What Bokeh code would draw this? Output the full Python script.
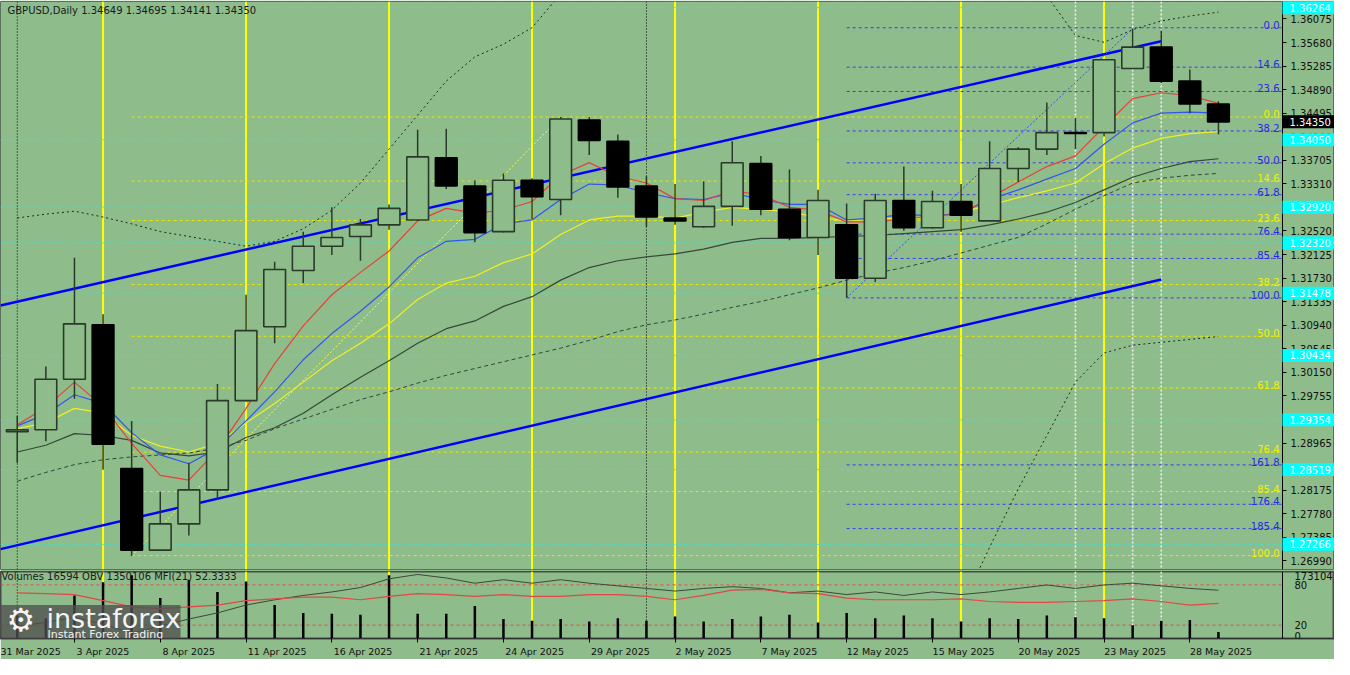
import numpy as np
from bokeh.plotting import figure
from bokeh.models import (Range1d, FixedTicker, PrintfTickFormatter, CustomJSTickFormatter,
                          Label, Span, BoxAnnotation, LinearAxis)
from bokeh.layouts import column
from bokeh.embed import file_html
from bokeh.resources import INLINE
from bokeh.core.properties import value

NAN = float("nan")

# ---------------- data ----------------
dates = ["1 Apr", "2 Apr", "3 Apr", "4 Apr", "7 Apr", "8 Apr", "9 Apr", "10 Apr", "11 Apr", "14 Apr",
         "15 Apr", "16 Apr", "17 Apr", "18 Apr", "21 Apr", "22 Apr", "23 Apr", "24 Apr", "25 Apr", "28 Apr",
         "29 Apr", "30 Apr", "1 May", "2 May", "5 May", "6 May", "7 May", "8 May", "9 May", "12 May",
         "13 May", "14 May", "15 May", "16 May", "19 May", "20 May", "21 May", "22 May", "23 May", "26 May",
         "27 May", "28 May", "29 May"]

opens = [1.29155, 1.29188, 1.30035, 1.30946, 1.28537, 1.27169, 1.27609, 1.28179, 1.29676, 1.30914,
         1.31858, 1.32265, 1.32428, 1.32623, 1.32705, 1.33747, 1.33275, 1.32509, 1.33372, 1.33047,
         1.34382, 1.34024, 1.33275, 1.32737, 1.32591, 1.32933, 1.33649, 1.32884, 1.32412, 1.32623,
         1.31728, 1.33030, 1.32574, 1.33014, 1.32689, 1.33568, 1.33893, 1.34170, 1.34170, 1.35245,
         1.35603, 1.35033, 1.34649]
highs = [1.29416, 1.30246, 1.32070, 1.31126, 1.29335, 1.28146, 1.28634, 1.29953, 1.31451, 1.32005,
         1.32509, 1.32916, 1.32721, 1.32965, 1.34219, 1.34235, 1.33372, 1.33486, 1.33405, 1.34431,
         1.34431, 1.34138, 1.33437, 1.33307, 1.33356, 1.34024, 1.33779, 1.33551, 1.33210, 1.32982,
         1.33144, 1.33600, 1.33193, 1.33307, 1.34024, 1.33926, 1.34675, 1.34414, 1.35400, 1.35912,
         1.35880, 1.35228, 1.34695]
lows = [1.28634, 1.28993, 1.29709, 1.28521, 1.27071, 1.27153, 1.27413, 1.28016, 1.29660, 1.30637,
        1.31647, 1.32119, 1.32021, 1.32542, 1.32688, 1.33226, 1.32330, 1.32493, 1.32721, 1.32786,
        1.33796, 1.33079, 1.32591, 1.32623, 1.32575, 1.32607, 1.32786, 1.32363, 1.32119, 1.31402,
        1.31663, 1.32526, 1.32558, 1.32509, 1.32689, 1.33340, 1.33796, 1.33893, 1.34105, 1.35245,
        1.35000, 1.34496, 1.34141]
closes = [1.29188, 1.30035, 1.30963, 1.28944, 1.27169, 1.27609, 1.28179, 1.29676, 1.30849, 1.31874,
          1.32265, 1.32412, 1.32623, 1.32900, 1.33763, 1.33275, 1.32493, 1.33372, 1.33096, 1.34398,
          1.34040, 1.33258, 1.32754, 1.32689, 1.32933, 1.33665, 1.32884, 1.32412, 1.33030, 1.31728,
          1.33030, 1.32574, 1.33014, 1.32786, 1.33568, 1.33893, 1.34170, 1.34154, 1.35391, 1.35603,
          1.35033, 1.34649, 1.34350]

ma_red = [1.29270, 1.29563, 1.29986, 1.29579, 1.28960, 1.28423, 1.28342, 1.28846, 1.29546, 1.30295,
          1.30930, 1.31451, 1.31826, 1.32184, 1.32689, 1.32900, 1.32819, 1.32868, 1.33014, 1.33454,
          1.33666, 1.33438, 1.33324, 1.33063, 1.33031, 1.33193, 1.33128, 1.32917, 1.32868, 1.32672,
          1.32672, 1.32721, 1.32770, 1.32803, 1.33079, 1.33340, 1.33600, 1.33780, 1.34268, 1.34740,
          1.34838, 1.34789, 1.34659]
ma_blue = [1.29253, 1.29449, 1.29774, 1.29628, 1.29139, 1.28765, 1.28618, 1.28879, 1.29335, 1.29823,
           1.30360, 1.30800, 1.31175, 1.31582, 1.32070, 1.32347, 1.32379, 1.32640, 1.32705, 1.33047,
           1.33307, 1.33291, 1.33161, 1.33063, 1.33047, 1.33161, 1.33047, 1.32965, 1.32965, 1.32705,
           1.32737, 1.32803, 1.32770, 1.32819, 1.33047, 1.33210, 1.33389, 1.33568, 1.33975, 1.34333,
           1.34496, 1.34512, 1.34496]
ma_yellow = [1.29205, 1.29302, 1.29546, 1.29465, 1.29091, 1.28912, 1.28814, 1.28960, 1.29302, 1.29628,
             1.29986, 1.30344, 1.30637, 1.30963, 1.31370, 1.31647, 1.31761, 1.31989, 1.32135, 1.32461,
             1.32705, 1.32770, 1.32770, 1.32737, 1.32835, 1.32917, 1.32884, 1.32835, 1.32754, 1.32689,
             1.32721, 1.32737, 1.32737, 1.32835, 1.32949, 1.33079, 1.33193, 1.33324, 1.33649, 1.33910,
             1.34073, 1.34154, 1.34187]
ma_dark = [1.28814, 1.28928, 1.29123, 1.29091, 1.29009, 1.28798, 1.28749, 1.28814, 1.29058, 1.29221,
           1.29465, 1.29774, 1.30067, 1.30344, 1.30637, 1.30882, 1.31012, 1.31256, 1.31419, 1.31696,
           1.31907, 1.32021, 1.32086, 1.32135, 1.32217, 1.32330, 1.32396, 1.32396, 1.32412, 1.32428,
           1.32444, 1.32477, 1.32510, 1.32542, 1.32624, 1.32721, 1.32835, 1.32998, 1.33210, 1.33421,
           1.33568, 1.33682, 1.33731]
ma_dashed = [1.28325, 1.28472, 1.28602, 1.28684, 1.28732, 1.28765, 1.28798, 1.28879, 1.29009, 1.29205,
             1.29367, 1.29530, 1.29693, 1.29823, 1.29970, 1.30100, 1.30214, 1.30328, 1.30442, 1.30556,
             1.30686, 1.30833, 1.30947, 1.31028, 1.31126, 1.31240, 1.31337, 1.31451, 1.31565, 1.31696,
             1.31810, 1.31907, 1.32021, 1.32151, 1.32282, 1.32412, 1.32640, 1.32884, 1.33112, 1.33324,
             1.33405, 1.33454, 1.33486]
band_upper = [1.32738, 1.32803, 1.32852, 1.32754, 1.32640, 1.32510, 1.32428, 1.32347, 1.32265, 1.32347,
              1.32558, 1.32868, 1.33324, 1.33893, 1.34463, 1.35033, 1.35440, 1.35652, 1.35929, 1.36498,
              1.37100] + [NAN] * 14 + [1.36900, 1.36466, 1.35798, 1.35684, 1.35896, 1.36042, 1.36124, 1.36189]
band_lower = [NAN] * 32 + [1.25500, 1.26200, 1.27218, 1.28195, 1.29091, 1.29986, 1.30474, 1.30605,
                           1.30654, 1.30702, 1.30751]

volumes = [59400, 52600, 111300, 145100, 163200, 104500, 151900, 120300, 147400, 86400,
           66100, 63900, 61600, 163200, 63900, 63900, 84200, 50300, 45800, 50300,
           43600, 52600, 45800, 57100, 43600, 50300, 57100, 61600, 41300, 66100,
           52600, 59400, 52600, 43600, 52600, 50300, 59400, 54800, 52600, 34500,
           45800, 48100, 16594]
obv = [1022106, 1054106, 1102106, 1038106, 958106, 1022106, 1086106, 1142106, 1214106, 1262106,
       1302106, 1334106, 1374106, 1454106, 1494106, 1462106, 1414106, 1446106, 1414106, 1446106,
       1414106, 1390106, 1366106, 1342106, 1366106, 1382106, 1366106, 1326106, 1342106, 1310106,
       1334106, 1302106, 1334106, 1310106, 1334106, 1366106, 1398106, 1366106, 1398106, 1414106,
       1390106, 1366106, 1350106]
mfi = [68.2, 66.9, 65.6, 56.5, 47.3, 44.7, 47.3, 49.8, 56.5, 59.1, 61.7, 61.7, 57.8, 63.0, 66.9,
       65.6, 63.0, 65.6, 63.0, 63.0, 65.6, 65.6, 63.0, 57.8, 64.3, 72.1, 73.4, 68.2, 66.9, 60.4,
       57.8, 57.8, 57.8, 59.1, 55.2, 53.8, 53.8, 55.2, 56.5, 59.1, 55.2, 49.8, 52.3333]
mfi_levels = [80, 20]

# Fibonacci retracements (anchor bar index, high, low)
fib_y_start, fib_y_high, fib_y_low = 4, 1.34431, 1.27077
fib_y_levels = [0.0, 14.6, 23.6, 38.2, 50.0, 61.8, 76.4, 85.4, 100.0]
fib_b_start, fib_b_high, fib_b_low = 29, 1.35928, 1.31398
fib_b_levels = [0.0, 14.6, 23.6, 38.2, 50.0, 61.8, 76.4, 85.4, 100.0, 161.8, 176.4, 185.4]

# horizontal support / resistance levels (cyan)
cyan_levels = [1.36264, 1.34050, 1.32920, 1.32320, 1.31478, 1.30434, 1.29354, 1.28519, 1.27266]

# channel trend lines (bar index, price)
tl_x = [-0.586, 40]
tl_upper = [1.31272, 1.35700]
tl_lower = [1.27186, 1.31708]
tl_yellow_x, tl_yellow_y = [4, 19], [1.27071, 1.34431]
tl_blue_x, tl_blue_y = [29, 39], [1.31402, 1.35912]

weekly_lines = [3, 8, 13, 18, 23, 28, 33, 38]
month_seps = [0, 22]
white_lines = [37, 39, 40]

price_ticks = [1.26990 + 0.00395 * k for k in range(24)]
tick_idx = [-1, 2, 5, 8, 11, 14, 17, 20, 23, 26, 29, 32, 35, 38, 41]
tick_labels = ["31 Mar 2025", "3 Apr 2025", "8 Apr 2025", "11 Apr 2025", "16 Apr 2025", "21 Apr 2025",
               "24 Apr 2025", "29 Apr 2025", "2 May 2025", "7 May 2025", "12 May 2025", "15 May 2025",
               "20 May 2025", "23 May 2025", "28 May 2025"]

# ---------------- styling ----------------
BG = "#8FBC8B"
FONT = "DejaVu Sans"
X0, X1 = -0.586, 44.24          # chart area (the price axis line sits at X1)
Y0, Y1 = 1.26844, 1.36368
W = 1334
RB = 52                          # width of the price-axis strip
BAR_PX = (W - RB) / (X1 - X0)
XF = X0 + W / BAR_PX             # frame extends under the axis strip

x = np.arange(len(dates))
o = np.array(opens); c = np.array(closes)
h = np.array(highs); l = np.array(lows)
up = c >= o

p1 = figure(width=W, height=571, x_range=Range1d(X0, XF), y_range=Range1d(Y0, Y1),
            toolbar_location=None, output_backend="svg", y_axis_location=None,
            x_axis_location=None, min_border_left=0, min_border_right=0,
            min_border_top=1, min_border_bottom=2,
            background_fill_color=BG, border_fill_color=BG,
            outline_line_color="#5e6e5e", outline_line_width=1)
p1.grid.visible = False


def add_vlines(fig):
    for i in weekly_lines:
        fig.add_layout(Span(location=i, dimension="height", line_color="#ffff00",
                            line_width=2, level="underlay"))
    for i in month_seps:
        fig.add_layout(Span(location=i, dimension="height", line_color="#000000",
                            line_width=1, line_dash="1 2", level="underlay"))
    for i in white_lines:
        fig.add_layout(Span(location=i, dimension="height", line_color="#f4f4f4",
                            line_width=1.5, line_dash="2 2", level="underlay"))


add_vlines(p1)

# cyan levels
n_c = len(cyan_levels)
p1.segment(x0=[X0] * n_c, y0=cyan_levels, x1=[X1] * n_c, y1=cyan_levels,
           line_color="#40E0D0", line_width=1, line_dash="3 3")

# fib levels
fy_prices = [fib_y_high - lv / 100.0 * (fib_y_high - fib_y_low) for lv in fib_y_levels]
fb_prices = [fib_b_high - lv / 100.0 * (fib_b_high - fib_b_low) for lv in fib_b_levels]
p1.segment(x0=[fib_y_start] * len(fy_prices), y0=fy_prices, x1=[X1] * len(fy_prices), y1=fy_prices,
           line_color="#e8e800", line_width=1, line_dash="3 3")
p1.segment(x0=[fib_b_start] * len(fb_prices), y0=fb_prices, x1=[X1] * len(fb_prices), y1=fb_prices,
           line_color="#3a3aff", line_width=1, line_dash="3 3")
p1.text(x=[X1] * len(fy_prices), y=fy_prices, text=[f"{lv:.1f}" for lv in fib_y_levels],
        text_align="right", text_baseline="bottom", x_offset=-3, y_offset=1,
        text_font=value(FONT), text_font_size="10px", text_color="#f0f000")
p1.text(x=[X1] * len(fb_prices), y=fb_prices, text=[f"{lv:.1f}" for lv in fib_b_levels],
        text_align="right", text_baseline="bottom", x_offset=-3, y_offset=1,
        text_font=value(FONT), text_font_size="10px", text_color="#2828e6")

# trend lines
p1.line(tl_x, tl_upper, line_color="#0000ff", line_width=2.5)
p1.line(tl_x, tl_lower, line_color="#0000ff", line_width=2.5)
p1.line(tl_yellow_x, tl_yellow_y, line_color="#ffff40", line_width=1, line_dash="2 2")
p1.line(tl_blue_x, tl_blue_y, line_color="#2f4fff", line_width=1, line_dash="2 2")

# indicator lines
p1.line(x, np.array(band_upper), line_color="#1e2a1e", line_width=1, line_dash="2 3")
p1.line(x, np.array(band_lower), line_color="#1e2a1e", line_width=1, line_dash="2 3")
p1.line(x, ma_dashed, line_color="#2f4a3a", line_width=1, line_dash="4 3")
p1.line(x, ma_dark, line_color="#34483a", line_width=1.2)
p1.line(x, ma_yellow, line_color="#f0f020", line_width=1.2)
p1.line(x, ma_blue, line_color="#3355ee", line_width=1.2)
p1.line(x, ma_red, line_color="#e8403a", line_width=1.2)

# candles
p1.segment(x0=x, y0=h, x1=x, y1=l, line_color="#2a3a2a", line_width=1.5)
p1.vbar(x=x[up], top=c[up], bottom=o[up], width=0.76, fill_color=BG,
        line_color="#2a3a2a", line_width=1.6)
p1.vbar(x=x[~up], top=o[~up], bottom=c[~up], width=0.76, fill_color="#000000",
        line_color="#000000", line_width=1.6)

# price axis drawn at the right edge of the chart area
ax = LinearAxis(fixed_location=X1, ticker=FixedTicker(ticks=price_ticks),
                formatter=PrintfTickFormatter(format="%.5f"),
                axis_line_color="#000000", major_tick_out=4, major_tick_in=0,
                minor_tick_line_color=None, major_label_text_font=FONT,
                major_label_text_font_size="10px", major_label_text_color="#101010",
                major_label_standoff=4)
p1.add_layout(ax, "right")

# price tags on the axis strip
tag_w = XF - X1
p1.rect(x=[X1 + tag_w / 2] * n_c, y=cyan_levels, width=tag_w, height=13, height_units="screen",
        fill_color="#00ffff", line_color=None, level="overlay")
p1.text(x=[X1] * n_c, y=cyan_levels, text=[f"{v:.5f}" for v in cyan_levels], x_offset=7,
        text_baseline="middle", text_font=value(FONT), text_font_size="10px",
        text_color="#ffffff", level="overlay")
p1.rect(x=[X1 + tag_w / 2], y=[closes[-1]], width=tag_w, height=13, height_units="screen",
        fill_color="#000000", line_color=None, level="overlay")
p1.text(x=[X1], y=[closes[-1]], text=[f"{closes[-1]:.5f}"], x_offset=7,
        text_baseline="middle", text_font=value(FONT), text_font_size="10px",
        text_color="#ffffff", level="overlay")

# header
p1.add_layout(Label(x=X0, y=1.36222, x_offset=7,
                    text=f"GBPUSD,Daily  {opens[-1]:.5f} {highs[-1]:.5f} {lows[-1]:.5f} {closes[-1]:.5f}",
                    text_font=FONT, text_font_size="10px", text_color="#1a1a1a",
                    text_baseline="middle"))

# ---------------- indicator panel ----------------
p2 = figure(width=W, height=88, x_range=p1.x_range, y_range=Range1d(0, 100),
            toolbar_location=None, output_backend="svg", y_axis_location=None,
            min_border_left=0, min_border_right=0, min_border_top=0, min_border_bottom=14,
            background_fill_color=BG, border_fill_color=BG,
            outline_line_color="#4a4a4a", outline_line_width=2)
p2.grid.visible = False
p2.extra_y_ranges = {"vol": Range1d(0, 173104), "obv": Range1d(907706, 1521306)}
add_vlines(p2)

p2.segment(x0=[X0] * 2, y0=mfi_levels, x1=[X1] * 2, y1=mfi_levels,
           line_color="#e05050", line_width=1, line_dash="3 3")
p2.segment(x0=x, y0=[0] * len(x), x1=x, y1=volumes, y_range_name="vol",
           line_color="#000000", line_width=2.5)
p2.line(x, obv, y_range_name="obv", line_color="#3a4a3a", line_width=1)
p2.line(x, mfi, line_color="#e04848", line_width=1.2)

p2.text(x=[X0], y=[93], text=[f"Volumes {volumes[-1]}  OBV {obv[-1]}  MFI(21) {mfi[-1]:.4f}"],
        x_offset=1, text_baseline="middle", text_font=value(FONT), text_font_size="10px",
        text_color="#1a1a1a")

ay = LinearAxis(fixed_location=X1, ticker=FixedTicker(ticks=[4, 20, 80, 94]),
                major_label_overrides={4: "0", 20: "20", 80: "80", 94: "173104"},
                axis_line_color="#000000", major_tick_line_color=None, minor_tick_line_color=None,
                major_label_text_font=FONT, major_label_text_font_size="10px",
                major_label_text_color="#101010", major_label_standoff=6)
p2.add_layout(ay, "right")

tick_pos = [i + (len(t) * 5.3 / 2 + 2) / BAR_PX for i, t in zip(tick_idx, tick_labels)]
axx = p2.xaxis[0]
axx.ticker = FixedTicker(ticks=tick_pos, minor_ticks=tick_idx)
axx.formatter = CustomJSTickFormatter(args=dict(tks=tick_pos, labs=tick_labels), code="""
    const j = tks.findIndex(t => Math.abs(t - tick) < 1e-6);
    return j >= 0 ? labs[j] : "";
""")
axx.major_tick_line_color = None
axx.minor_tick_out = 4
axx.minor_tick_in = 0
axx.minor_tick_line_color = "#000000"
axx.axis_line_color = "#303030"
axx.major_label_text_font = FONT
axx.major_label_text_font_size = "9.5px"
axx.major_label_text_color = "#101010"
axx.major_label_standoff = 1

# watermark logo
p2.add_layout(BoxAnnotation(left=X0, right=X0 + 180 / BAR_PX, top=50, bottom=-40,
                            fill_color="#505050", fill_alpha=0.78, line_color=None, level="overlay"))
p2.add_layout(Label(x=X0, y=27, x_offset=6, text="\u2699", text_font=FONT, text_font_size="32px",
                    text_color="#f4f4f4", text_baseline="middle", level="overlay"))
p2.add_layout(Label(x=X0, y=30, x_offset=46, text="instaforex", text_font=FONT,
                    text_font_size="27px", text_color="#f4f4f4", text_baseline="middle", level="overlay"))
p2.add_layout(Label(x=X0, y=6, x_offset=47, text="Instant Forex Trading", text_font=FONT,
                    text_font_size="11px", text_color="#f0f0f0", text_baseline="middle", level="overlay"))

layout = column(p1, p2, spacing=0)
open("out.html", "w").write(file_html(layout, INLINE))
